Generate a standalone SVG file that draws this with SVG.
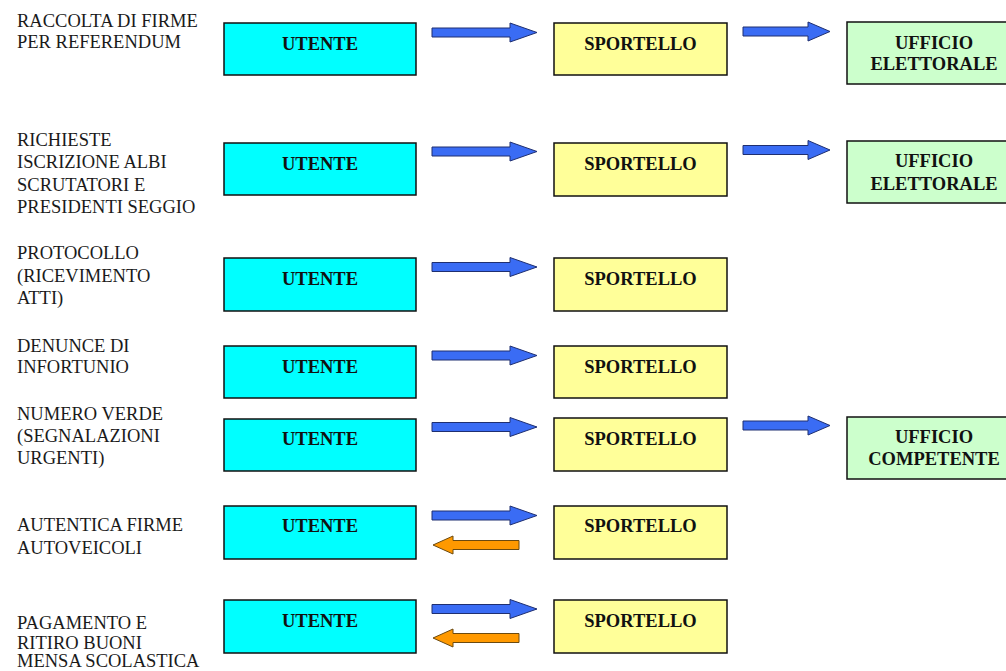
<svg xmlns="http://www.w3.org/2000/svg" width="1006" height="671" viewBox="0 0 1006 671">
<style>
.lbl{font-family:'Liberation Serif','Times New Roman',serif;font-size:18.5px;fill:#1a1a1a}
.bt{font-family:'Liberation Serif','Times New Roman',serif;font-size:18.5px;font-weight:bold;fill:#111;text-anchor:middle}
.u{fill:#00FFFF;stroke:#111;stroke-width:1.5}
.s{fill:#FFFF99;stroke:#111;stroke-width:1.5}
.g{fill:#CCFFCC;stroke:#111;stroke-width:1.5}
.ab{fill:#3A6CF4;stroke:#1F2F70;stroke-width:1}
.ao{fill:#FF9900;stroke:#6B4A10;stroke-width:1}
</style>
<defs>
<path id="ar1" d="M432 -4.5 H510 V-9.5 L537 0 L510 9.5 V4.5 H432 Z"/>
<path id="ar2" d="M743 -4.5 H808 V-9.5 L830 0 L808 9.5 V4.5 H743 Z"/>
<path id="al" d="M519 -4.5 H453 V-9 L433 0 L453 9 V4.5 H519 Z"/>
</defs>
<rect width="1006" height="671" fill="#fff"/>
<g id="labels">
<text class="lbl" x="17" y="27">RACCOLTA DI FIRME</text>
<text class="lbl" x="17" y="48">PER REFERENDUM</text>
<text class="lbl" x="17" y="146">RICHIESTE</text>
<text class="lbl" x="17" y="168">ISCRIZIONE ALBI</text>
<text class="lbl" x="17" y="191">SCRUTATORI E</text>
<text class="lbl" x="17" y="213">PRESIDENTI SEGGIO</text>
<text class="lbl" x="17" y="259">PROTOCOLLO</text>
<text class="lbl" x="17" y="281.5">(RICEVIMENTO</text>
<text class="lbl" x="17" y="304">ATTI)</text>
<text class="lbl" x="17" y="351.5">DENUNCE DI</text>
<text class="lbl" x="17" y="372.5">INFORTUNIO</text>
<text class="lbl" x="17" y="419.5">NUMERO VERDE</text>
<text class="lbl" x="17" y="442">(SEGNALAZIONI</text>
<text class="lbl" x="17" y="464">URGENTI)</text>
<text class="lbl" x="17" y="530.5">AUTENTICA FIRME</text>
<text class="lbl" x="17" y="554">AUTOVEICOLI</text>
<text class="lbl" x="17" y="629">PAGAMENTO E</text>
<text class="lbl" x="17" y="648.5">RITIRO BUONI</text>
<text class="lbl" x="17" y="666.5">MENSA SCOLASTICA</text>
</g>
<g id="utente1"><rect class="u" x="224" y="23" width="192" height="52"/><text class="bt" x="320" y="49.5">UTENTE</text></g>
<g id="utente2"><rect class="u" x="224" y="143" width="192" height="52"/><text class="bt" x="320" y="169.5">UTENTE</text></g>
<g id="utente3"><rect class="u" x="224" y="258" width="192" height="53"/><text class="bt" x="320" y="285">UTENTE</text></g>
<g id="utente4"><rect class="u" x="224" y="346" width="192" height="52"/><text class="bt" x="320" y="372.5">UTENTE</text></g>
<g id="utente5"><rect class="u" x="224" y="419" width="192" height="52"/><text class="bt" x="320" y="445">UTENTE</text></g>
<g id="utente6"><rect class="u" x="224" y="506" width="192" height="53"/><text class="bt" x="320" y="532">UTENTE</text></g>
<g id="utente7"><rect class="u" x="224" y="600" width="192" height="53"/><text class="bt" x="320" y="626.5">UTENTE</text></g>
<g id="sportello1"><rect class="s" x="554" y="23" width="173" height="52"/><text class="bt" x="640.5" y="49.5">SPORTELLO</text></g>
<g id="sportello2"><rect class="s" x="554" y="143" width="173" height="53"/><text class="bt" x="640.5" y="169.5">SPORTELLO</text></g>
<g id="sportello3"><rect class="s" x="554" y="258" width="173" height="53"/><text class="bt" x="640.5" y="285">SPORTELLO</text></g>
<g id="sportello4"><rect class="s" x="554" y="346" width="173" height="52"/><text class="bt" x="640.5" y="372.5">SPORTELLO</text></g>
<g id="sportello5"><rect class="s" x="554" y="418" width="173" height="53"/><text class="bt" x="640.5" y="444.5">SPORTELLO</text></g>
<g id="sportello6"><rect class="s" x="554" y="506" width="173" height="53"/><text class="bt" x="640.5" y="532">SPORTELLO</text></g>
<g id="sportello7"><rect class="s" x="554" y="600" width="173" height="53"/><text class="bt" x="640.5" y="626.5">SPORTELLO</text></g>
<g id="ufficio1"><rect class="g" x="847" y="22" width="176" height="62"/><text class="bt" x="934" y="48.5">UFFICIO</text><text class="bt" x="934" y="70">ELETTORALE</text></g>
<g id="ufficio2"><rect class="g" x="847" y="141" width="176" height="62"/><text class="bt" x="934" y="167">UFFICIO</text><text class="bt" x="934" y="189.5">ELETTORALE</text></g>
<g id="ufficio3"><rect class="g" x="847" y="417" width="176" height="62"/><text class="bt" x="934" y="443">UFFICIO</text><text class="bt" x="934" y="465">COMPETENTE</text></g>
<g id="connectors">
<use href="#ar1" class="ab" y="32.5"/>
<use href="#ar1" class="ab" y="151.5"/>
<use href="#ar1" class="ab" y="267"/>
<use href="#ar1" class="ab" y="355.5"/>
<use href="#ar1" class="ab" y="427"/>
<use href="#ar1" class="ab" y="515.5"/>
<use href="#ar1" class="ab" y="609"/>
<use href="#ar2" class="ab" y="31.5"/>
<use href="#ar2" class="ab" y="150"/>
<use href="#ar2" class="ab" y="425.5"/>
<use href="#al" class="ao" y="545"/>
<use href="#al" class="ao" y="638"/>
</g>
</svg>
